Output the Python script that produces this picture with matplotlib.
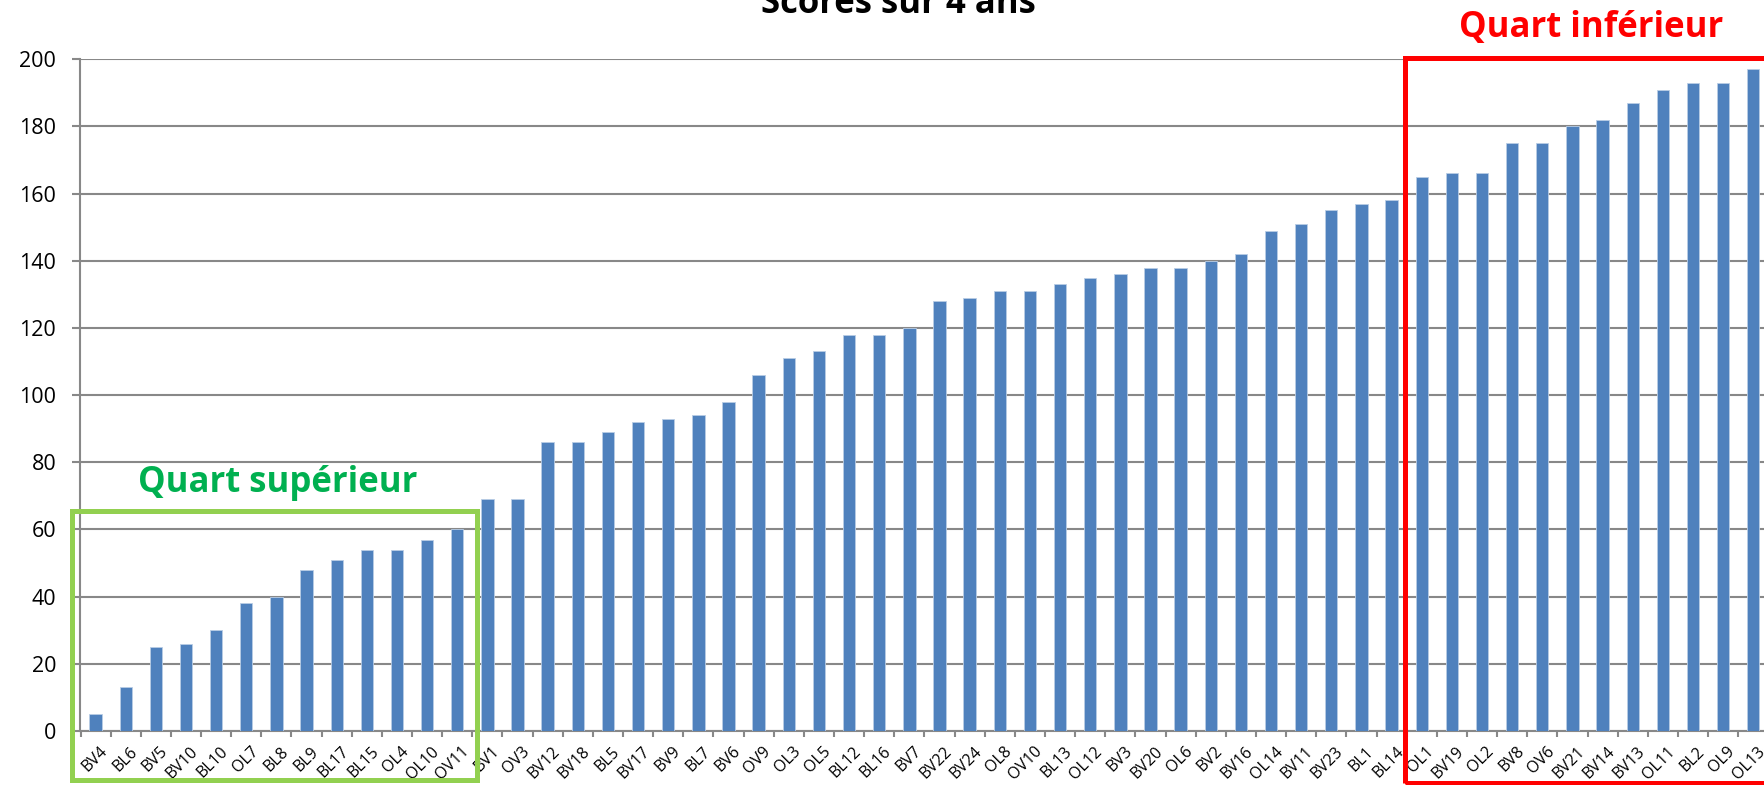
import matplotlib
matplotlib.use('Agg')
import matplotlib.pyplot as plt
import matplotlib.transforms as mtransforms
from matplotlib.patches import Rectangle
import numpy as np

plt.rcParams['font.family'] = ['Open Sans', 'DejaVu Sans']

# Données
equipes = ['BV4', 'BL6', 'BV5', 'BV10', 'BL10', 'OL7', 'BL8', 'BL9', 'BL17', 'BL15',
           'OL4', 'OL10', 'OV11', 'BV1', 'OV3', 'BV12', 'BV18', 'BL5', 'BV17', 'BV9',
           'BL7', 'BV6', 'OV9', 'OL3', 'OL5', 'BL12', 'BL16', 'BV7', 'BV22', 'BV24',
           'OL8', 'OV10', 'BL13', 'OL12', 'BV3', 'BV20', 'OL6', 'BV2', 'BV16', 'OL14',
           'BV11', 'BV23', 'BL1', 'BL14', 'OL1', 'BV19', 'OL2', 'BV8', 'OV6', 'BV21',
           'BV14', 'BV13', 'OL11', 'BL2', 'OL9', 'OL13']
scores = [5, 13, 25, 26, 30, 38, 40, 48, 51, 54,
          54, 57, 60, 69, 69, 86, 86, 89, 92, 93,
          94, 98, 106, 111, 113, 118, 118, 120, 128, 129,
          131, 131, 133, 135, 136, 138, 138, 140, 142, 149,
          151, 155, 157, 158, 165, 166, 166, 175, 175, 180,
          182, 187, 191, 193, 193, 197]
y_ticks = list(range(0, 201, 20))

W, H = 1765, 785
fig = plt.figure(figsize=(W / 100, H / 100), dpi=100)

# axe: gauche 80.5 px, zero a 731 px, 200 a 59.3 px
left, y0, y200 = 80.5, 731.0, 59.3
cat_w = 30.14
ax = fig.add_axes([left / W, (H - y0) / H, len(scores) * cat_w / W, (y0 - y200) / H])

x = np.arange(len(scores))
ax.bar(x, scores, width=0.41, color='#4F81BD', edgecolor='#B9CDE5', linewidth=0.6, zorder=3)

ax.set_xlim(-0.5, len(scores) - 0.5)
ax.set_ylim(0, 200)
ax.set_yticks(y_ticks)
ax.yaxis.grid(True, color='#888888', linewidth=1.5, zorder=0)
ax.set_axisbelow(True)

for s in ['top', 'right']:
    ax.spines[s].set_visible(False)
for s in ['left', 'bottom']:
    ax.spines[s].set_color('#888888')
    ax.spines[s].set_linewidth(1.5)

ax.tick_params(axis='y', length=5.5, width=1.5, color='#888888', labelsize=15.5, pad=12)

# ticks x: marques aux limites, etiquettes au centre
ax.set_xticks(x)
ax.set_xticks(np.arange(-0.5, len(scores), 1), minor=True)
ax.tick_params(axis='x', which='major', length=0, pad=9)
ax.tick_params(axis='x', which='minor', length=4, width=1.5, color='#888888')
ax.set_xticklabels(equipes, rotation=45, ha='right', va='top',
                   rotation_mode='anchor', fontsize=11.5)
offset = mtransforms.ScaledTranslation(4 / 100, 0, fig.dpi_scale_trans)
for lbl in ax.get_xticklabels():
    lbl.set_transform(lbl.get_transform() + offset)

# titre (coupe en haut)
fig.text(898 / W, 1 - 12.7 / H, 'Scores sur 4 ans', ha='center', va='baseline',
         fontsize=25, fontweight='bold', color='black')

# cadres
fig.patches.append(Rectangle((72 / W, 1 - 780 / H), (477 - 72) / W, (780 - 511) / H,
                             transform=fig.transFigure, fill=False,
                             edgecolor='#92D050', linewidth=3.6, zorder=5))
fig.patches.append(Rectangle((1405 / W, 1 - 782.5 / H), (1800 - 1405) / W, (782.5 - 58.3) / H,
                             transform=fig.transFigure, fill=False,
                             edgecolor='#FF0000', linewidth=3.6, zorder=5))

fig.text(277.5 / W, 1 - 491.7 / H, 'Quart supérieur', ha='center', va='baseline',
         fontsize=25, fontweight='bold', color='#00B050')
fig.text(1591 / W, 1 - 36.7 / H, 'Quart inférieur', ha='center', va='baseline',
         fontsize=25, fontweight='bold', color='#FF0000')

fig.savefig('out.png', dpi=100)
